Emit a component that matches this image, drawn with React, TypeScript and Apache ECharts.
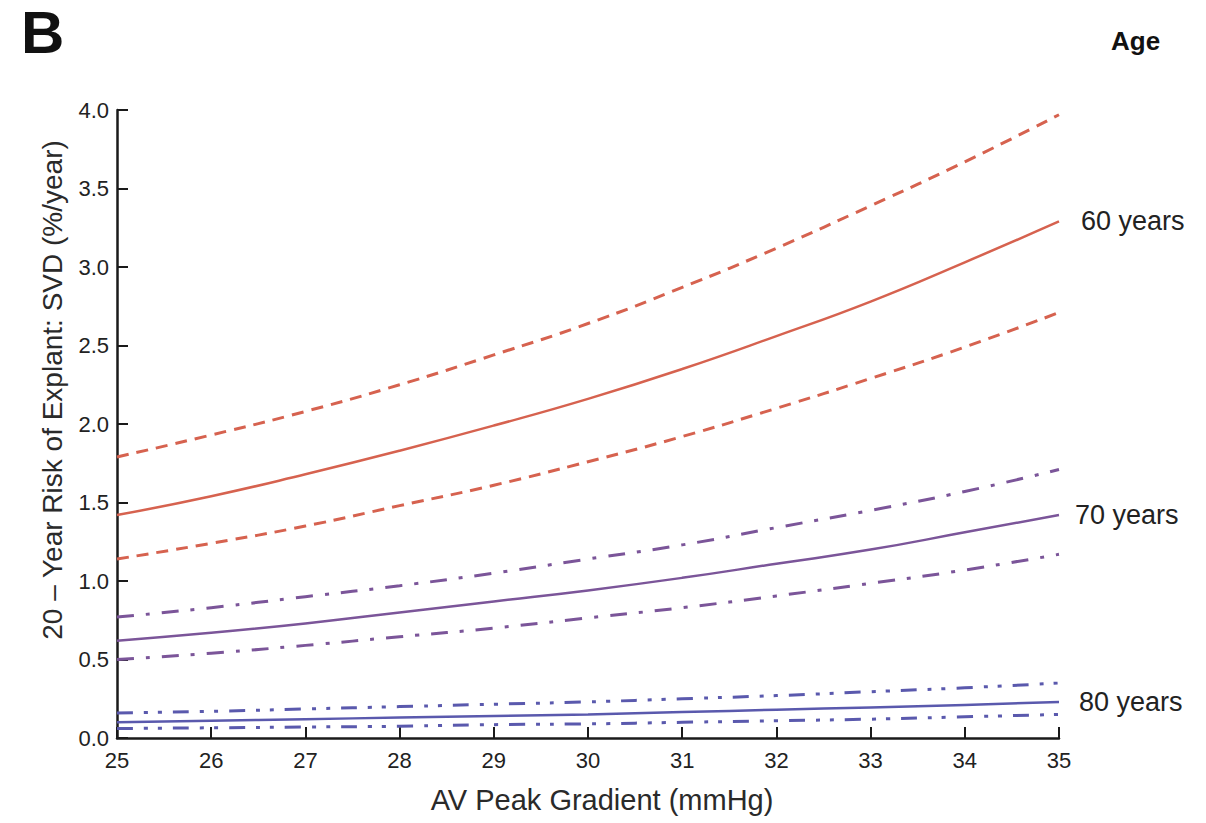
import React, { useEffect, useRef } from "react";
import * as echarts from "echarts";

const gradients = [25, 26, 27, 28, 29, 30, 31, 32, 33, 34, 35];

const age60 = [1.42, 1.54, 1.68, 1.83, 1.99, 2.16, 2.35, 2.56, 2.78, 3.03, 3.29];
const age60Upper = [1.79, 1.93, 2.08, 2.25, 2.44, 2.64, 2.87, 3.12, 3.39, 3.67, 3.97];
const age60Lower = [1.14, 1.24, 1.35, 1.48, 1.61, 1.76, 1.92, 2.10, 2.29, 2.49, 2.71];

const age70 = [0.62, 0.67, 0.73, 0.80, 0.87, 0.94, 1.02, 1.11, 1.20, 1.31, 1.42];
const age70Upper = [0.77, 0.83, 0.90, 0.97, 1.05, 1.14, 1.23, 1.34, 1.45, 1.57, 1.71];
const age70Lower = [0.50, 0.54, 0.59, 0.645, 0.70, 0.765, 0.83, 0.905, 0.985, 1.07, 1.17];

const age80 = [0.10, 0.11, 0.12, 0.13, 0.14, 0.15, 0.165, 0.18, 0.195, 0.21, 0.23];
const age80Upper = [0.16, 0.17, 0.185, 0.20, 0.215, 0.23, 0.25, 0.27, 0.295, 0.32, 0.35];
const age80Lower = [0.06, 0.065, 0.07, 0.075, 0.085, 0.09, 0.10, 0.11, 0.12, 0.135, 0.15];

const yTicks = [0, 0.5, 1, 1.5, 2, 2.5, 3, 3.5, 4];

const pair = (ys: number[]) => gradients.map((x, i) => [x, ys[i]]);

const FONT = "'Liberation Sans', Arial, Helvetica, sans-serif";
const RED = "#d6624f";
const PURPLE = "#7b5599";
const BLUE = "#5a59ad";

export default function App() {
  const ref = useRef<HTMLDivElement>(null);
  useEffect(() => {
    if (!ref.current) return;
    const chart = echarts.init(ref.current, undefined, { renderer: "svg" });
    const mk = (
      name: string,
      ys: number[],
      color: string,
      type: any,
      width: number,
      label?: { text: string; distance: number }
    ) => ({
      name,
      type: "line",
      data: pair(ys),
      smooth: true,
      symbol: "none",
      lineStyle: { color, width, type },
      endLabel: label
        ? {
            show: true,
            formatter: label.text,
            distance: label.distance,
            color: "#222",
            fontSize: 27,
            fontFamily: FONT,
          }
        : { show: false },
      z: 3,
    });
    chart.setOption({
      animation: false,
      backgroundColor: "#ffffff",
      grid: { left: 117, right: 147, top: 110, bottom: 85 },
      xAxis: {
        type: "value",
        min: 25,
        max: 35,
        interval: 1,
        axisLine: { show: true, lineStyle: { color: "#1a1a1a", width: 2.5 } },
        axisTick: { show: true, inside: true, length: 11, lineStyle: { color: "#1a1a1a", width: 2 } },
        axisLabel: { fontSize: 22, color: "#222", margin: 11, fontFamily: FONT },
        splitLine: { show: false },
      },
      yAxis: {
        type: "value",
        min: 0,
        max: 4,
        interval: 0.5,
        axisLine: { show: true, lineStyle: { color: "#1a1a1a", width: 2.5 } },
        axisTick: { show: true, inside: true, length: 11, lineStyle: { color: "#1a1a1a", width: 2 } },
        axisLabel: {
          fontSize: 22,
          color: "#222",
          margin: 8,
          fontFamily: FONT,
          formatter: (v: number) => (yTicks.includes(v) ? v.toFixed(1) : ""),
        },
        splitLine: { show: false },
      },
      graphic: [
        {
          type: "text",
          left: 21,
          top: 2,
          style: { text: "B", fontSize: 60, fontWeight: "bold", fill: "#111", fontFamily: FONT },
        },
        {
          type: "text",
          left: 1111,
          top: 28,
          style: { text: "Age", fontSize: 26, fontWeight: "bold", fill: "#111", fontFamily: FONT },
        },
        {
          type: "text",
          x: 52,
          y: 390,
          rotation: Math.PI / 2,
          style: {
            text: "20 – Year Risk of Explant: SVD (%/year)",
            fontSize: 28,
            fill: "#2a2a2a",
            fontFamily: FONT,
            align: "center",
            verticalAlign: "middle",
          },
        },
        {
          type: "text",
          x: 602,
          y: 800,
          style: {
            text: "AV Peak Gradient (mmHg)",
            fontSize: 29,
            fill: "#2a2a2a",
            fontFamily: FONT,
            align: "center",
            verticalAlign: "middle",
          },
        },
      ],
      series: [
        mk("60 upper", age60Upper, RED, [12, 8], 3),
        mk("60 years", age60, RED, "solid", 2.5, { text: "60 years", distance: 22 }),
        mk("60 lower", age60Lower, RED, [12, 8], 3),
        mk("70 upper", age70Upper, PURPLE, [17, 12, 4, 12], 3),
        mk("70 years", age70, PURPLE, "solid", 2.5, { text: "70 years", distance: 16 }),
        mk("70 lower", age70Lower, PURPLE, [17, 12, 4, 12], 3),
        mk("80 upper", age80Upper, BLUE, [16, 11, 4, 10, 4, 11], 3),
        mk("80 years", age80, BLUE, "solid", 2.5, { text: "80 years", distance: 20 }),
        mk("80 lower", age80Lower, BLUE, [16, 11, 4, 10, 4, 11], 3),
      ],
    });
    return () => chart.dispose();
  }, []);
  return (
    <div
      ref={ref}
      style={{ position: "fixed", left: 0, top: 0, width: 1206, height: 823, background: "#fff" }}
    />
  );
}
